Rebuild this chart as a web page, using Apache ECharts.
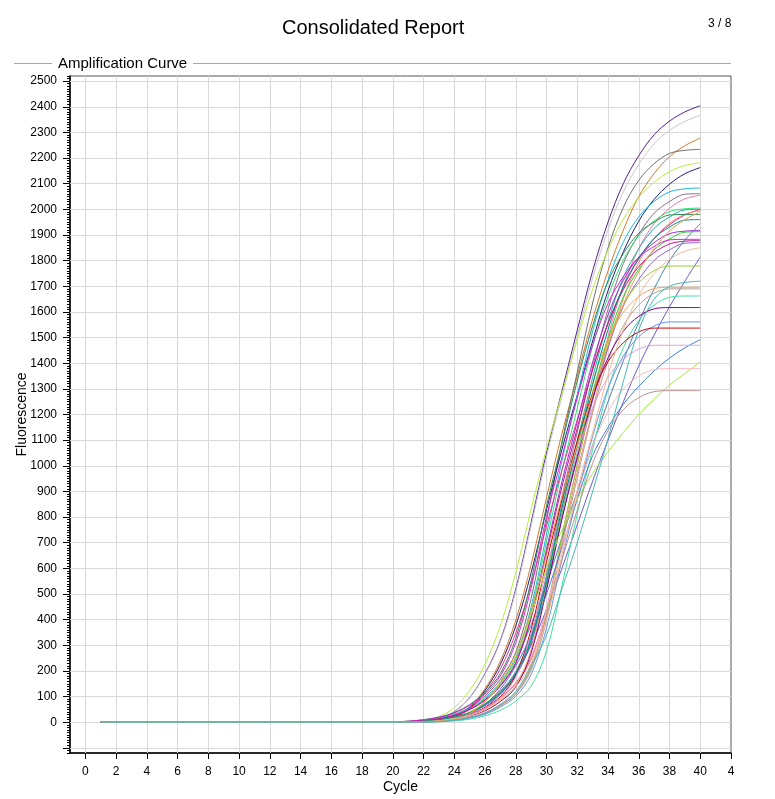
<!DOCTYPE html>
<html>
<head>
<meta charset="utf-8">
<title>Consolidated Report</title>
<script src="https://cdn.jsdelivr.net/npm/echarts@6/dist/echarts.min.js"></script>
<style>
  html, body { margin: 0; padding: 0; background: #fff; }
  #main { width: 775px; height: 799px; }
</style>
</head>
<body>
<div id="main"></div>
<script>
var FONT = 'Arial, "Liberation Sans", sans-serif';

// cycles 1..40, curves are flat at 0 until cycle 19
var cycles = [1,2,3,4,5,6,7,8,9,10,11,12,13,14,15,16,17,18,19,20,
              21,22,23,24,25,26,27,28,29,30,31,32,33,34,35,36,37,38,39,40];
var flat = [0,0,0,0,0,0,0,0,0,0,0,0,0,0,0,0,0,0,0];

var xTicks = [0,2,4,6,8,10,12,14,16,18,20,22,24,26,28,30,32,34,36,38,40,42];
var yTicks = [-100,0,100,200,300,400,500,600,700,800,900,1000,1100,1200,1300,1400,1500,
              1600,1700,1800,1900,2000,2100,2200,2300,2400,2500];

// fluorescence for cycles 20..40, one array per well
var purple       = [0,2,6,14,41,96,190,320,519,779,1051,1291,1529,1760,1950,2101,2209,2291,2344,2380,2404];
var lightGray    = [0,2,6,14,40,95,187,315,511,767,1035,1271,1505,1733,1920,2069,2175,2256,2308,2343,2367];
var orange       = [0,1,5,9,23,60,131,239,398,616,876,1125,1350,1573,1760,1920,2050,2140,2205,2248,2278];
var darkGray     = [0,2,7,16,31,58,103,168,273,483,786,1092,1365,1635,1850,2008,2113,2178,2218,2230,2234];
var yellowGreen  = [1,4,9,22,57,124,227,377,585,831,1067,1281,1492,1689,1842,1962,2047,2106,2147,2171,2182];
var navy         = [0,1,4,9,22,57,124,226,376,583,828,1063,1276,1487,1683,1835,1954,2039,2098,2139,2163];
var skyBlue      = [0,2,6,15,29,54,96,156,254,450,733,1019,1273,1525,1725,1873,1971,2031,2068,2080,2083];
var mauve        = [0,1,4,10,21,39,72,122,198,340,575,878,1131,1385,1610,1789,1902,1985,2030,2059,2061];
var pink         = [0,0,2,6,14,29,53,95,154,251,444,723,1005,1256,1504,1702,1847,1944,2004,2041,2055];
var brightGreen  = [0,2,6,14,28,52,92,150,245,433,706,980,1225,1468,1660,1802,1897,1955,1991,2002,2005];
var teal         = [0,1,4,10,20,38,70,118,192,330,558,852,1098,1344,1562,1736,1846,1926,1970,1998,2000];
var hotPink      = [0,1,4,8,20,52,115,209,348,539,766,983,1180,1375,1556,1696,1807,1885,1940,1978,2000];
var salmon       = [0,0,2,6,14,28,52,92,150,243,431,702,976,1219,1460,1652,1794,1887,1945,1981,1995];
var darkGreen    = [1,4,10,20,38,69,117,190,327,552,843,1087,1331,1546,1719,1828,1907,1950,1978,1980,1980];
var steelBlue    = [0,1,3,7,17,38,80,150,250,380,540,720,900,1080,1250,1410,1560,1690,1800,1880,1944];
var orchid       = [0,2,6,13,27,50,88,144,234,414,675,938,1172,1404,1588,1724,1814,1870,1905,1915,1918];
var limeGreen    = [0,1,4,10,19,36,67,113,184,316,534,815,1050,1286,1494,1660,1766,1842,1884,1911,1913];
var magenta      = [1,4,9,19,36,66,111,181,311,525,802,1034,1265,1471,1634,1738,1813,1855,1881,1883,1883];
var redViolet    = [0,2,6,13,26,49,86,141,229,406,661,918,1147,1375,1555,1688,1777,1831,1865,1876,1878];
var violet       = [0,1,4,9,19,36,65,110,180,309,522,797,1027,1257,1460,1623,1726,1801,1842,1868,1870];
var slateBlue    = [0,1,2,5,12,28,58,110,190,300,440,600,770,940,1100,1250,1390,1510,1620,1720,1814];
var oliveGreen   = [0,0,1,4,9,18,36,68,116,213,420,724,1003,1270,1484,1628,1713,1761,1779,1779,1779];
var sandy        = [0,0,2,5,12,25,47,85,144,283,543,829,1085,1325,1491,1599,1660,1691,1696,1696,1696];
var tan          = [0,0,1,3,8,17,34,64,110,203,399,688,953,1207,1409,1546,1627,1673,1690,1690,1690];
var aquamarine   = [0,0,0,2,5,12,25,47,83,141,278,532,813,1064,1298,1461,1567,1627,1657,1662,1662];
var darkMagenta  = [0,0,2,5,11,24,45,81,137,270,517,791,1035,1263,1421,1525,1583,1612,1617,1617,1617];
var cornflower   = [0,0,1,3,8,16,31,59,101,187,368,635,880,1115,1302,1428,1503,1545,1561,1561,1561];
var red          = [0,1,3,8,15,31,58,100,184,363,626,867,1097,1282,1406,1480,1522,1537,1537,1537,1537];
var blue         = [0,1,3,7,16,35,70,130,220,340,500,680,870,1040,1150,1240,1310,1370,1420,1460,1492];
var plum         = [0,1,3,7,15,29,56,96,176,347,598,829,1050,1226,1345,1416,1455,1470,1470,1470,1470];
var lawnGreen    = [0,1,3,8,18,40,80,150,250,420,600,750,870,970,1055,1130,1200,1260,1315,1360,1405];
var lightPink    = [0,0,1,4,10,21,39,69,117,230,441,674,883,1077,1212,1300,1350,1375,1379,1379,1379];
var rosyBrown    = [0,0,1,4,9,19,36,65,110,216,414,632,828,1010,1137,1219,1266,1289,1293,1293,1293];
var darkCyan     = [0,1,4,10,20,37,69,116,188,323,547,835,1076,1317,1531,1701,1809,1887,1931,1958,1960];
var peach        = [0,0,2,6,13,26,48,85,139,226,400,651,905,1130,1354,1532,1663,1750,1804,1837,1850];
var orangeTan    = [0,0,2,5,12,34,80,159,267,434,651,878,1079,1278,1471,1630,1757,1847,1916,1960,1990];
var turquoise    = [0,0,1,3,8,18,36,70,120,220,340,520,700,900,1105,1330,1530,1650,1700,1715,1720];

var curves = [purple, lightGray, orange, darkGray, yellowGreen, navy, skyBlue, mauve, pink,
  brightGreen, teal, hotPink, salmon, darkGreen, steelBlue, orchid, limeGreen, magenta,
  redViolet, violet, slateBlue, oliveGreen, sandy, tan, aquamarine, darkMagenta, cornflower,
  red, blue, plum, lawnGreen, lightPink, rosyBrown, darkCyan, peach, orangeTan, turquoise];
var colors = ['#55208c', '#c8c8c8', '#d2782a', '#707070', '#b5f03c', '#1e1e78', '#20b4e0',
  '#8c7090', '#e878a8', '#30e070', '#20b2aa', '#f0308a', '#f08878', '#2e8b57', '#4682b4',
  '#9932cc', '#32cd32', '#e020e0', '#c71585', '#9060d0', '#6a5acd', '#9acd32', '#f4a460',
  '#b4a08c', '#40e0a0', '#800080', '#6495ed', '#cc0000', '#3a7fd5', '#dda0dd', '#a0e840',
  '#ffb6c1', '#bc8f8f', '#008b8b', '#f5b895', '#e6a050', '#48b8b8'];

var gridColor = '#d9d9d9';

// grid lines drawn as mark lines so they sit exactly on the tick values
var gridSeries = {
  type: 'line',
  data: [],
  z: 1,
  silent: true,
  markLine: {
    z: 1,
    silent: true,
    symbol: 'none',
    animation: false,
    label: { show: false },
    lineStyle: { color: gridColor, width: 1, type: 'solid' },
    emphasis: { disabled: true },
    data: xTicks.slice(0, xTicks.length - 1).map(function (v) { return { xAxis: v }; })
      .concat(yTicks.map(function (v) { return { yAxis: v }; }))
  }
};

var series = [gridSeries].concat(curves.map(function (rise, i) {
  var vals = flat.concat(rise);
  return {
    type: 'line',
    z: 3,
    data: cycles.map(function (c, k) { return [c, vals[k]]; }),
    showSymbol: false,
    smooth: 0.35,
    lineStyle: { width: 1, color: colors[i] },
    itemStyle: { color: colors[i] },
    silent: true
  };
}));

var myChart = echarts.init(document.getElementById('main'));

myChart.setOption({
  animation: false,
  backgroundColor: '#fff',
  textStyle: { fontFamily: FONT },
  graphic: [
    { type: 'text', left: 282, top: 18,
      style: { text: 'Consolidated Report', font: '20px ' + FONT, fill: '#000' } },
    { type: 'text', left: 708, top: 18,
      style: { text: '3 / 8', font: '12px ' + FONT, fill: '#000' } },
    { type: 'line', shape: { x1: 14, y1: 63.5, x2: 52, y2: 63.5 },
      style: { stroke: '#a8a8a8', lineWidth: 1 } },
    { type: 'text', left: 58, top: 56,
      style: { text: 'Amplification Curve', font: '15px ' + FONT, fill: '#000' } },
    { type: 'line', shape: { x1: 193, y1: 63.5, x2: 731, y2: 63.5 },
      style: { stroke: '#a8a8a8', lineWidth: 1 } }
  ],
  grid: {
    left: 70, right: 44, top: 76, bottom: 46,
    outerBoundsMode: 'none',
    show: true, borderColor: '#555', borderWidth: 1, backgroundColor: '#fff'
  },
  xAxis: {
    type: 'value',
    min: -1,
    max: 42,
    name: 'Cycle',
    nameLocation: 'middle',
    nameGap: 27,
    nameMoveOverlap: false,
    nameTextStyle: { fontSize: 14, color: '#000', fontFamily: FONT },
    axisLine: { show: true, onZero: false, lineStyle: { color: '#000', width: 1.5 } },
    axisTick: { show: true, length: 6, customValues: xTicks, lineStyle: { color: '#000' } },
    axisLabel: {
      customValues: xTicks, color: '#000', fontSize: 12, margin: 13, fontFamily: FONT,
      formatter: function (v) { return v === 42 ? '4' : String(v); }
    },
    splitLine: { show: false }
  },
  yAxis: [
    {
      type: 'value',
      min: -120,
      max: 2520,
      position: 'left',
      name: 'Fluorescence',
      nameLocation: 'middle',
      nameGap: 41,
      nameMoveOverlap: false,
      nameTextStyle: { fontSize: 14, color: '#000', fontFamily: FONT },
      axisLine: { show: true, onZero: false, lineStyle: { color: '#000', width: 1.5 } },
      axisTick: { show: true, length: 7, customValues: yTicks, lineStyle: { color: '#000' } },
      axisLabel: {
        customValues: yTicks, color: '#000', fontSize: 12, margin: 13, fontFamily: FONT,
        formatter: function (v) { return v < 0 ? '' : String(v); }
      },
      splitLine: { show: false }
    },
    {
      type: 'value',
      min: -120,
      max: 2520,
      interval: 10,
      position: 'left',
      axisLine: { show: false, onZero: false },
      axisTick: { show: true, length: 3, lineStyle: { color: '#000' } },
      axisLabel: { show: false },
      splitLine: { show: false }
    }
  ],
  series: series
});
</script>
</body>
</html>
